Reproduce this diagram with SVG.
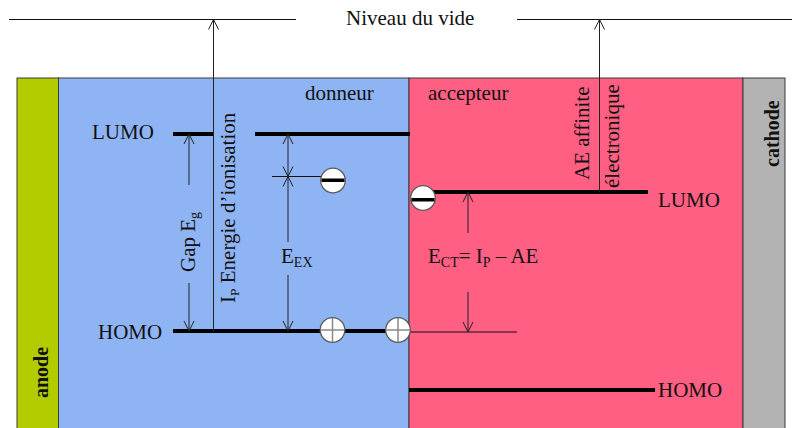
<svg xmlns="http://www.w3.org/2000/svg" width="792" height="428" viewBox="0 0 792 428">
<style>
text{font-family:"Liberation Serif","Times New Roman",serif;fill:#111;font-size:21px}
.b{font-weight:bold;font-size:20px}
.region{stroke:#3a3a3a;stroke-width:1}
.lvl{stroke:#000;stroke-width:4;fill:none}
.thin{stroke:#111;stroke-width:1;fill:none}
.arr{stroke:#222;stroke-width:1;fill:none}
.circ{fill:#fff;stroke:#5a5a5a;stroke-width:1.3}
.plus{stroke:#8a8a8a;stroke-width:1.5}
</style>
<defs>
<marker id="ah" markerUnits="userSpaceOnUse" markerWidth="12" markerHeight="12" viewBox="0 0 12 12" refX="11" refY="6" orient="auto">
<path d="M1,1 L11,6 L1,11" fill="none" stroke="#222" stroke-width="1"/>
</marker>
</defs>
<rect width="792" height="428" fill="#fff"/>

<g id="anode">
<rect class="region" x="17" y="78" width="41.5" height="360" fill="#B2CC00"/>
<text class="b" transform="translate(48,398) rotate(-90)">anode</text>
</g>
<g id="donneur">
<rect class="region" x="58.5" y="78" width="350.5" height="360" fill="#8EB4F3"/>
<text x="305" y="100">donneur</text>
</g>
<g id="accepteur">
<rect class="region" x="409" y="78" width="334" height="360" fill="#FE5F83"/>
<text x="428" y="100">accepteur</text>
</g>
<g id="cathode">
<rect class="region" x="743" y="78" width="42" height="360" fill="#B3B3B3"/>
<text class="b" transform="translate(779,167) rotate(-90)">cathode</text>
</g>

<g id="niveau-vide">
<line class="thin" x1="9" y1="19.5" x2="296" y2="19.5"/>
<line class="thin" x1="517" y1="19.5" x2="792" y2="19.5"/>
<text x="346" y="25">Niveau du vide</text>
</g>

<g id="donneur-niveaux">
<line class="lvl" x1="173" y1="134" x2="213" y2="134"/>
<line class="lvl" x1="255" y1="134" x2="410" y2="134"/>
<line class="lvl" x1="173" y1="331" x2="398" y2="331"/>
<text x="92" y="139" font-size="22">LUMO</text>
<text x="98" y="339" font-size="22">HOMO</text>
</g>

<g id="accepteur-niveaux">
<line class="lvl" x1="423" y1="192" x2="648" y2="192"/>
<line class="lvl" x1="409" y1="390" x2="655" y2="390"/>
<line class="thin" x1="398" y1="332" x2="517" y2="332"/>
<text x="658" y="207" font-size="22">LUMO</text>
<text x="658" y="397" font-size="22">HOMO</text>
</g>

<g id="connecteurs">
<line class="arr" x1="213.5" y1="331" x2="213.5" y2="19.5" marker-end="url(#ah)"/>
<line class="arr" x1="599.5" y1="192" x2="599.5" y2="19.5" marker-end="url(#ah)"/>
<line class="arr" x1="189" y1="185" x2="189" y2="134" marker-end="url(#ah)"/>
<line class="arr" x1="189" y1="283" x2="189" y2="331" marker-end="url(#ah)"/>
<line class="arr" x1="288" y1="155" x2="288" y2="134" marker-end="url(#ah)"/>
<line class="arr" x1="288" y1="155" x2="288" y2="176.5" marker-end="url(#ah)"/>
<line class="arr" x1="288" y1="242" x2="288" y2="176.5" marker-end="url(#ah)"/>
<line class="arr" x1="288" y1="275" x2="288" y2="331" marker-end="url(#ah)"/>
<line class="thin" x1="272" y1="176.5" x2="322" y2="176.5"/>
<line class="arr" x1="468" y1="233" x2="468" y2="192" marker-end="url(#ah)"/>
<line class="arr" x1="468" y1="292" x2="468" y2="332" marker-end="url(#ah)"/>
</g>

<g id="charges">
<g id="electron-donneur">
<circle class="circ" cx="333" cy="180.5" r="12.3"/>
<rect x="321.5" y="178.5" width="23" height="3.5" fill="#000"/>
</g>
<g id="electron-accepteur">
<circle class="circ" cx="423" cy="198" r="12.3"/>
<rect x="411.5" y="198" width="23" height="3.5" fill="#000"/>
</g>
<g id="trou-1">
<circle class="circ" cx="332.5" cy="330" r="12.3"/>
<line class="plus" x1="320.5" y1="330" x2="344.5" y2="330"/>
<line class="plus" x1="332.5" y1="318" x2="332.5" y2="342"/>
</g>
<g id="trou-2">
<circle class="circ" cx="398" cy="330" r="12.3"/>
<line class="plus" x1="386" y1="330" x2="410" y2="330"/>
<line class="plus" x1="398" y1="318" x2="398" y2="342"/>
</g>
</g>

<g id="labels">
<text transform="translate(195,272) rotate(-90)">Gap  E<tspan font-size="14" dy="4">g</tspan></text>
<text transform="translate(235,303) rotate(-90)" font-size="18.8">I<tspan font-size="13.5" dy="4">P</tspan><tspan dy="-4"> Energie d’ionisation</tspan></text>
<text x="281" y="263">E<tspan font-size="14" dy="4">EX</tspan></text>
<text x="428" y="263">E<tspan font-size="14" dy="4">CT</tspan><tspan dy="-4">= I</tspan><tspan font-size="14" dy="4">P</tspan><tspan dy="-4"> – AE</tspan></text>
<text transform="translate(589,180) rotate(-90)">AE affinite</text>
<text transform="translate(619,188) rotate(-90)">électronique</text>
</g>
</svg>
